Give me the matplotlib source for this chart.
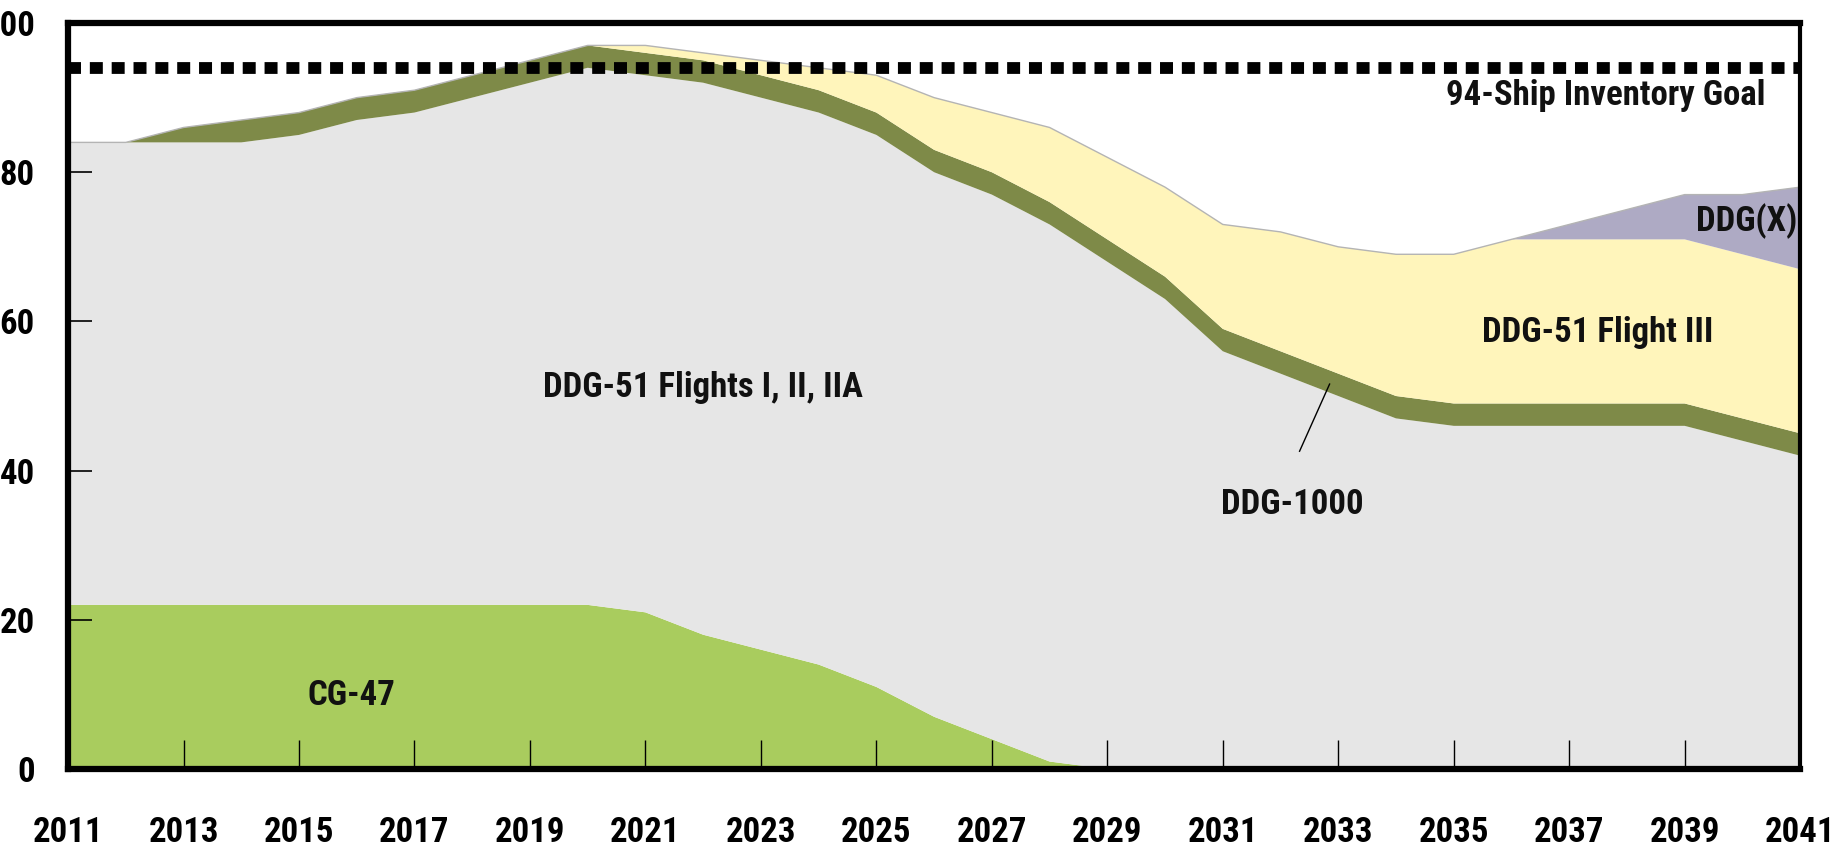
import matplotlib
matplotlib.use("Agg")
import matplotlib.pyplot as plt
from matplotlib import font_manager

# pick a narrow font if one is there
installed = {f.name for f in font_manager.fontManager.ttflist}
font = "DejaVu Sans"
for name in ["Liberation Sans Narrow", "Roboto Condensed", "Open Sans Condensed"]:
    if name in installed:
        font = name
        break
plt.rcParams['font.family'] = [font, 'DejaVu Sans']
plt.rcParams['font.weight'] = 'semibold'

years = list(range(2011, 2042))
cg47 = [22, 22, 22, 22, 22, 22, 22, 22, 22, 22,
        21, 18, 16, 14, 11, 7, 4, 1, 0, 0,
        0, 0, 0, 0, 0, 0, 0, 0, 0, 0, 0]
ddg51_old = [62, 62, 62, 62, 63, 65, 66, 68, 70, 72,
             72, 74, 74, 74, 74, 73, 73, 72, 68, 63,
             56, 53, 50, 47, 46, 46, 46, 46, 46, 44, 42]
ddg1000 = [0, 0, 2, 3, 3, 3, 3, 3, 3, 3,
           3, 3, 3, 3, 3, 3, 3, 3, 3, 3,
           3, 3, 3, 3, 3, 3, 3, 3, 3, 3, 3]
flight3 = [0, 0, 0, 0, 0, 0, 0, 0, 0, 0,
           1, 1, 2, 3, 5, 7, 8, 10, 11, 12,
           14, 16, 17, 19, 20, 22, 22, 22, 22, 22, 22]
ddgx = [0, 0, 0, 0, 0, 0, 0, 0, 0, 0,
        0, 0, 0, 0, 0, 0, 0, 0, 0, 0,
        0, 0, 0, 0, 0, 0, 2, 4, 6, 8, 11]
goal = 94

colors = ['#a9cc5e', '#e6e6e6', '#7e8a48', '#fff5bb', '#aeaac4']

fig = plt.figure(figsize=(18.35, 8.5), dpi=100)
ax = fig.add_axes([0.0371, 0.0953, 0.9439, 0.8776])

ax.stackplot(years, cg47, ddg51_old, ddg1000, flight3, ddgx,
             colors=colors, linewidth=0)
total = [a + b + c + d + e for a, b, c, d, e in zip(cg47, ddg51_old, ddg1000, flight3, ddgx)]
ax.plot(years, total, color='#b4b4b4', lw=1)

ax.axhline(goal, color='black', lw=8.5, linestyle=(0, (1.1, 0.75)),
           dash_capstyle='butt', zorder=5)

ax.set_xlim(2011, 2041)
ax.set_ylim(0, 100)
ax.set_xticks(years[::2])
ax.set_yticks([0, 20, 40, 60, 80, 100])
ax.tick_params(axis='x', direction='in', length=21, width=1, pad=34, labelsize=25)
ax.tick_params(axis='y', direction='in', length=17, width=1.2, pad=24, labelsize=25)
for side in ['left', 'top', 'bottom']:
    ax.spines[side].set_linewidth(4.5)
ax.spines['right'].set_linewidth(3)
for s in ax.spines.values():
    s.set_zorder(6)

txt = dict(fontsize=25, color='#111111', ha='center', va='center')
ax.text(2022.0, 51.2, 'DDG-51 Flights I, II, IIA', **txt)
ax.text(2015.9, 9.9, 'CG-47', **txt)
ax.text(2037.5, 58.5, 'DDG-51 Flight III', **txt)
ax.text(2040.95, 73.5, 'DDG(X)', fontsize=25, color='#111111', ha='right', va='center')
ax.text(2032.2, 35.5, 'DDG-1000', **txt)
ax.text(2040.4, 90.3, '94-Ship Inventory Goal', fontsize=25, color='#111111', ha='right', va='center')
ax.plot([2032.33, 2032.85], [42.6, 51.6], color='black', lw=1)

fig.savefig('out.png', dpi=100)
